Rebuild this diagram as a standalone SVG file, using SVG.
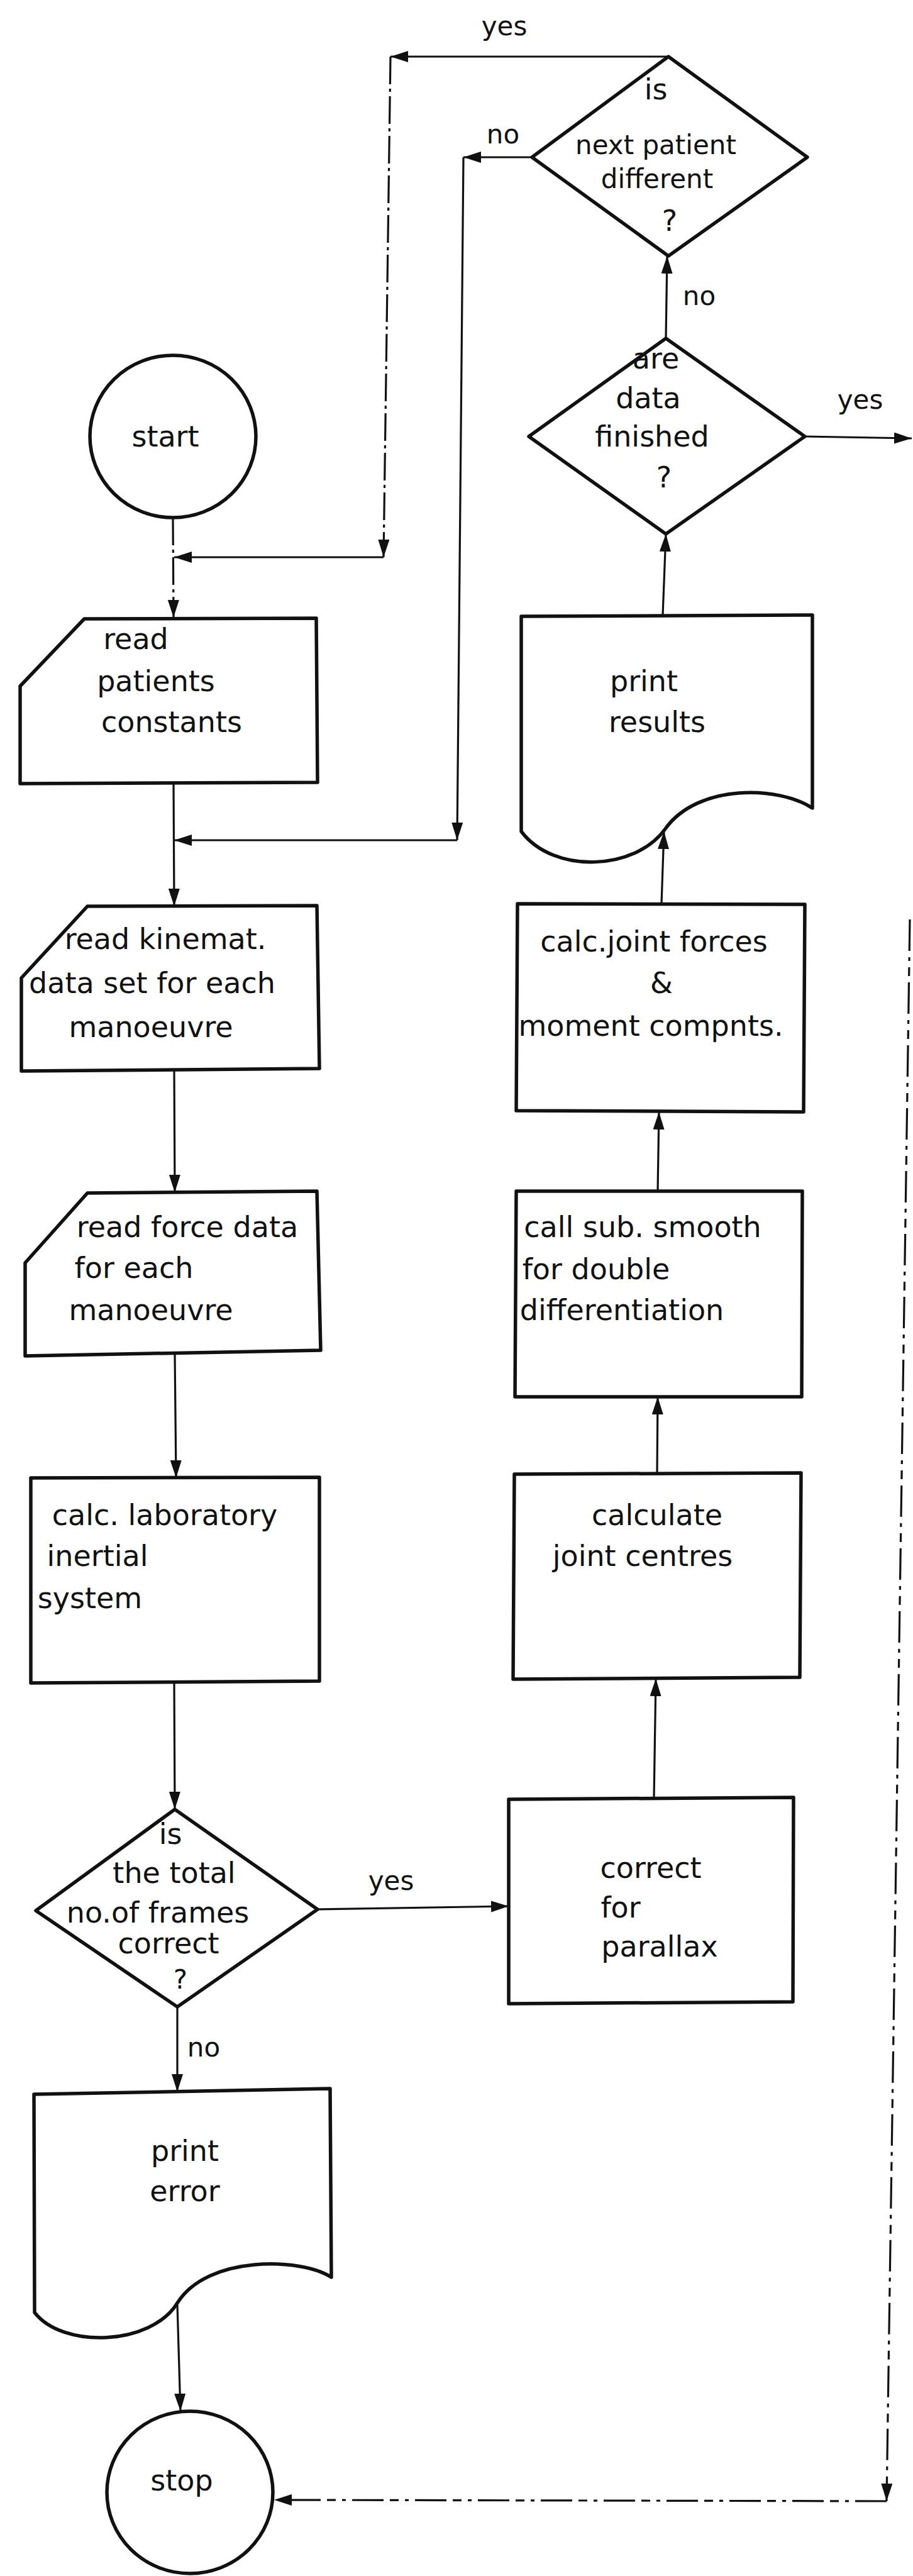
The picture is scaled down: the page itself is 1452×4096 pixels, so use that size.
<svg xmlns="http://www.w3.org/2000/svg" width="1452" height="4096" viewBox="0 0 1452 4096">
<style>
.shape{fill:none;stroke:#111;stroke-width:5.5;stroke-linejoin:round}
.conn{fill:none;stroke:#111;stroke-width:3.2}
.dash{stroke-dasharray:44 7 5 7}
.dash2{stroke-dasharray:50 10 6 10 14 10}
text{font-family:"DejaVu Sans","Liberation Sans",sans-serif;fill:#111;text-anchor:middle}
.t{font-size:46px}
.s{font-size:42px}
.l{font-size:42px}
</style>
<defs>
<marker id="ah" markerUnits="userSpaceOnUse" markerWidth="30" markerHeight="20" refX="28" refY="9" orient="auto">
<path d="M0,0 L28,9 L0,18 Z" fill="#111"/>
</marker>
</defs>
<rect width="1452" height="4096" fill="#fff"/>

<g id="connectors">
<path class="conn" d="M1063,90 L621,90" marker-end="url(#ah)"/>
<path class="conn dash" d="M621,90 L610,886" marker-end="url(#ah)"/>
<path class="conn" d="M610,886 L277,886" marker-end="url(#ah)"/>
<path class="conn" d="M846,250 L737,250" marker-end="url(#ah)"/>
<path class="conn" d="M737,250 L727,1336" marker-end="url(#ah)"/>
<path class="conn" d="M727,1336 L277,1336" marker-end="url(#ah)"/>
<path class="conn dash" d="M275,823 L276,982" marker-end="url(#ah)"/>
<path class="conn" d="M276,1246 L277,1441" marker-end="url(#ah)"/>
<path class="conn" d="M277,1703 L278,1896" marker-end="url(#ah)"/>
<path class="conn" d="M278,2152 L280,2350" marker-end="url(#ah)"/>
<path class="conn" d="M277,2676 L278,2877" marker-end="url(#ah)"/>
<path class="conn" d="M505,3036 L809,3031" marker-end="url(#ah)"/>
<path class="conn" d="M282,3191 L282,3326" marker-end="url(#ah)"/>
<path class="conn" d="M282,3665 L287,3834" marker-end="url(#ah)"/>
<path class="conn" d="M1040,2860 L1043,2669" marker-end="url(#ah)"/>
<path class="conn" d="M1045,2343 L1046,2221" marker-end="url(#ah)"/>
<path class="conn" d="M1046,1894 L1048,1768" marker-end="url(#ah)"/>
<path class="conn" d="M1052,1437 L1056,1322" marker-end="url(#ah)"/>
<path class="conn" d="M1054,978 L1059,849" marker-end="url(#ah)"/>
<path class="conn" d="M1059,538 L1061,407" marker-end="url(#ah)"/>
<path class="conn" d="M1280,694 L1450,697" marker-end="url(#ah)"/>
<path class="conn dash2" d="M1447,1462 L1410,3977" marker-end="url(#ah)"/>
<path class="conn dash2" d="M1410,3977 L436,3975" marker-end="url(#ah)"/>
</g>

<g id="labels">
<text class="l" x="802" y="56">yes</text>
<text class="l" x="800" y="228">no</text>
<text class="l" x="1112" y="485">no</text>
<text class="l" x="1368" y="650">yes</text>
<text class="l" x="622" y="3005">yes</text>
<text class="l" x="324" y="3270">no</text>
</g>

<g id="start">
<ellipse class="shape" cx="275" cy="694" rx="132" ry="129"/>
<text class="t" x="263" y="710">start</text>
</g>

<g id="read-patients">
<path class="shape" d="M134,984 L503,983 L505,1244 L32,1246 L32,1091 Z"/>
<text class="t" x="216" y="1032">read</text>
<text class="t" x="248" y="1099">patients</text>
<text class="t" x="273" y="1164">constants</text>
</g>

<g id="read-kinemat">
<path class="shape" d="M139,1441 L504,1440 L508,1699 L34,1703 L34,1555 Z"/>
<text class="t" x="263" y="1509">read kinemat.</text>
<text class="t" x="242" y="1579">data set for each</text>
<text class="t" x="240" y="1649">manoeuvre</text>
</g>

<g id="read-force">
<path class="shape" d="M139,1897 L504,1894 L510,2147 L40,2156 L40,2008 Z"/>
<text class="t" x="298" y="1967">read force data</text>
<text class="t" x="213" y="2032">for each</text>
<text class="t" x="240" y="2099">manoeuvre</text>
</g>

<g id="calc-lab">
<path class="shape" d="M49,2350 L508,2349 L508,2673 L49,2676 Z"/>
<text class="t" x="262" y="2425">calc. laboratory</text>
<text class="t" x="155" y="2490">inertial</text>
<text class="t" x="143" y="2557">system</text>
</g>

<g id="frames-correct">
<path class="shape" d="M278,2877 L505,3036 L282,3191 L57,3038 Z"/>
<text class="t" x="271" y="2932">is</text>
<text class="t" x="277" y="2994">the total</text>
<text class="t" x="251" y="3057">no.of frames</text>
<text class="t" x="268" y="3106">correct</text>
<text class="s" x="287" y="3162">?</text>
</g>

<g id="print-error">
<path class="shape" d="M54,3330 L525,3321 L527,3621 C480,3590 330,3585 282,3662 C240,3730 100,3735 55,3677 Z"/>
<text class="t" x="294" y="3436">print</text>
<text class="t" x="294" y="3500">error</text>
</g>

<g id="stop">
<ellipse class="shape" cx="302" cy="3963" rx="132" ry="129"/>
<text class="t" x="289" y="3960">stop</text>
</g>

<g id="parallax">
<path class="shape" d="M809,2861 L1262,2858 L1261,3183 L809,3186 Z"/>
<text class="t" x="1035" y="2986">correct</text>
<text class="t" x="987" y="3049">for</text>
<text class="t" x="1049" y="3111">parallax</text>
</g>

<g id="calc-centres">
<path class="shape" d="M818,2344 L1274,2342 L1272,2667 L816,2670 Z"/>
<text class="t" x="1045" y="2425">calculate</text>
<text class="t" x="1022" y="2490">joint centres</text>
</g>

<g id="call-smooth">
<path class="shape" d="M821,1894 L1276,1894 L1275,2221 L819,2221 Z"/>
<text class="t" x="1022" y="1967">call sub. smooth</text>
<text class="t" x="948" y="2034">for double</text>
<text class="t" x="989" y="2099">differentiation</text>
</g>

<g id="calc-forces">
<path class="shape" d="M823,1437 L1280,1438 L1278,1768 L821,1766 Z"/>
<text class="t" x="1040" y="1513">calc.joint forces</text>
<text class="t" x="1052" y="1579">&amp;</text>
<text class="t" x="1035" y="1647">moment compnts.</text>
</g>

<g id="print-results">
<path class="shape" d="M829,980 L1292,978 L1292,1285 C1240,1250 1110,1245 1058,1318 C1010,1385 880,1390 829,1322 Z"/>
<text class="t" x="1024" y="1099">print</text>
<text class="t" x="1045" y="1164">results</text>
</g>

<g id="data-finished">
<path class="shape" d="M1059,538 L1280,694 L1059,849 L841,694 Z"/>
<text class="t" x="1043" y="586">are</text>
<text class="t" x="1031" y="649">data</text>
<text class="t" x="1037" y="710">finished</text>
<text class="t" x="1056" y="775">?</text>
</g>

<g id="next-patient">
<path class="shape" d="M1063,90 L1284,250 L1063,407 L846,250 Z"/>
<text class="t" x="1043" y="158">is</text>
<text class="s" x="1043" y="245">next patient</text>
<text class="s" x="1045" y="299">different</text>
<text class="t" x="1065" y="367">?</text>
</g>
</svg>
